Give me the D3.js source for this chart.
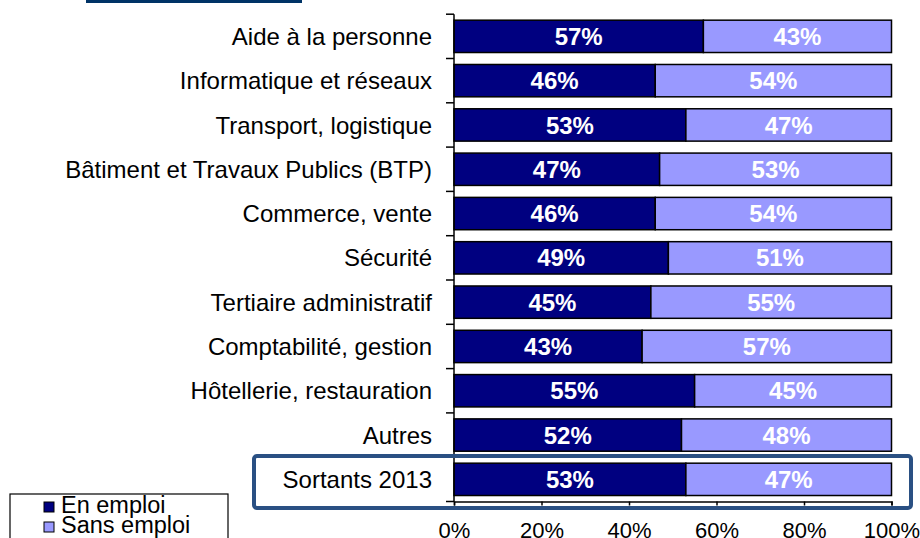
<!DOCTYPE html>
<html>
<head>
<meta charset="utf-8">
<script src="https://cdn.jsdelivr.net/npm/d3@7"></script>
<style>
  body { margin: 0; background: #fff; }
  svg { font-family: Arial, "Liberation Sans", sans-serif; display: block; }
</style>
</head>
<body>
<div id="chart"></div>
<script>
// categories and shares
var categories = ["Aide à la personne", "Informatique et réseaux", "Transport, logistique",
    "Bâtiment et Travaux Publics (BTP)", "Commerce, vente", "Sécurité",
    "Tertiaire administratif", "Comptabilité, gestion", "Hôtellerie, restauration",
    "Autres", "Sortants 2013"];
var enEmploi = [57, 46, 53, 47, 46, 49, 45, 43, 55, 52, 53];
var sansEmploi = [43, 54, 47, 53, 54, 51, 55, 57, 45, 48, 47];
var seriesNames = ["En emploi", "Sans emploi"];
var xTicks = [0, 20, 40, 60, 80, 100];

var width = 920, height = 538;
var plotLeft = 454, plotRight = 891.5, plotTop = 14.2, plotBottom = 501.5;

var color = d3.scaleOrdinal().domain(seriesNames).range(["#000080", "#9999FF"]);

var svg = d3.select("#chart").append("svg")
    .attr("width", width)
    .attr("height", height);

var x = d3.scaleLinear().domain([0, 100]).range([plotLeft, plotRight]);
var y = d3.scaleBand().domain(categories).range([plotTop, plotBottom]).paddingInner(0.27).paddingOuter(0.135);

// stacked rows
var rows = categories.map(function (c, i) {
    return { cat: c, parts: [
        { name: seriesNames[0], x0: 0, x1: enEmploi[i], v: enEmploi[i] },
        { name: seriesNames[1], x0: enEmploi[i], x1: enEmploi[i] + sansEmploi[i], v: sansEmploi[i] }
    ] };
});

// title strip at top
svg.append("rect")
    .attr("x", 86).attr("y", 0)
    .attr("width", 216).attr("height", 3)
    .attr("fill", "#003366");

var row = svg.selectAll(".row")
    .data(rows)
    .enter().append("g")
    .attr("class", "row")
    .attr("transform", function (d) { return "translate(0," + y(d.cat) + ")"; });

row.selectAll("rect")
    .data(function (d) { return d.parts; })
    .enter().append("rect")
    .attr("x", function (d) { return x(d.x0); })
    .attr("width", function (d) { return x(d.x1) - x(d.x0); })
    .attr("height", y.bandwidth())
    .attr("fill", function (d) { return color(d.name); })
    .attr("stroke", "#000")
    .attr("stroke-width", 1.5);

row.selectAll("text.val")
    .data(function (d) { return d.parts; })
    .enter().append("text")
    .attr("class", "val")
    .attr("x", function (d) { return (x(d.x0) + x(d.x1)) / 2; })
    .attr("y", y.bandwidth() / 2)
    .attr("dy", "0.36em")
    .attr("text-anchor", "middle")
    .attr("fill", "#fff")
    .style("font-weight", "bold")
    .style("font-size", "24px")
    .text(function (d) { return d.v + "%"; });

// y axis: line + ticks at band borders, labels
svg.append("line")
    .attr("x1", plotLeft).attr("x2", plotLeft)
    .attr("y1", plotTop).attr("y2", plotBottom)
    .attr("stroke", "#000").attr("stroke-width", 1.5);

var step = y.step();
var borders = d3.range(categories.length + 1).map(function (i) { return plotTop + i * step; });
svg.selectAll(".ytick")
    .data(borders)
    .enter().append("line")
    .attr("x1", plotLeft - 8).attr("x2", plotLeft)
    .attr("y1", function (d) { return d; }).attr("y2", function (d) { return d; })
    .attr("stroke", "#000").attr("stroke-width", 1.5);

svg.selectAll(".ylab")
    .data(categories)
    .enter().append("text")
    .attr("x", 432)
    .attr("y", function (d) { return y(d) + y.bandwidth() / 2; })
    .attr("dy", "0.36em")
    .attr("text-anchor", "end")
    .style("font-size", "24px")
    .attr("fill", "#000")
    .text(function (d) { return d; });

// x axis
var xAxis = d3.axisBottom(x)
    .tickValues(xTicks)
    .tickSize(4)
    .tickPadding(17)
    .tickFormat(function (d) { return d + "%"; });

var gx = svg.append("g")
    .attr("transform", "translate(0," + plotBottom + ")")
    .call(xAxis);
gx.select(".domain").attr("stroke-width", 1.5);
gx.selectAll(".tick line").attr("stroke-width", 1.5);
gx.selectAll("text")
    .style("font-size", "22px")
    .style("font-family", "Arial, 'Liberation Sans', sans-serif")
    .attr("fill", "#000");

// highlight frame around the last row
svg.append("rect")
    .attr("x", 254).attr("y", 456)
    .attr("width", 657).attr("height", 52)
    .attr("rx", 3)
    .attr("fill", "none")
    .attr("stroke", "#2A5083")
    .attr("stroke-width", 4);

// legend
var lg = svg.append("g");
lg.append("rect")
    .attr("x", 10).attr("y", 494)
    .attr("width", 218).attr("height", 60)
    .attr("fill", "#fff")
    .attr("stroke", "#000").attr("stroke-width", 1.2);

var item = lg.selectAll(".leg")
    .data(seriesNames)
    .enter().append("g")
    .attr("transform", function (d, i) { return "translate(44," + (502 + i * 20) + ")"; });

item.append("rect")
    .attr("width", 10).attr("height", 10)
    .attr("fill", function (d) { return color(d); })
    .attr("stroke", "#000").attr("stroke-width", 1);

item.append("text")
    .attr("x", 17)
    .attr("y", 11)
    .style("font-size", "23.5px")
    .text(function (d) { return d; });
</script>
</body>
</html>
